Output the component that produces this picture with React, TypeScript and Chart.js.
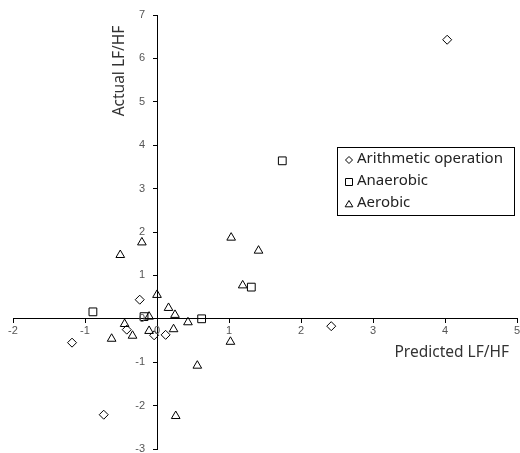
import React, { useEffect, useRef } from "react";
import { Chart, registerables } from "chart.js";

Chart.register(...registerables);

const X_TITLE = "Predicted LF/HF";
const Y_TITLE = "Actual LF/HF";
const SERIES_NAMES = ["Arithmetic operation", "Anaerobic", "Aerobic"];

const arithX = [4.03, 2.42, -1.18, -0.74, -0.24, -0.42, -0.04, 0.12];
const arithY = [6.43, -0.17, -0.55, -2.21, 0.44, -0.25, -0.38, -0.37];

const anaerX = [1.74, 1.31, -0.89, -0.18, 0.62];
const anaerY = [3.64, 0.73, 0.16, 0.05, 0.0];

const aerX = [-0.21, -0.51, 1.03, 1.41, 1.19, 0.0, 0.16, 0.25, -0.11, -0.45, -0.34, -0.63, -0.11, 0.23, 0.43, 1.02, 0.56, 0.26];
const aerY = [1.76, 1.47, 1.87, 1.57, 0.77, 0.55, 0.25, 0.09, 0.05, -0.12, -0.39, -0.46, -0.28, -0.24, -0.08, -0.53, -1.08, -2.24];

const X_MIN = -2, X_MAX = 5, Y_MIN = -3, Y_MAX = 7;

const zip = (xs: number[], ys: number[]) => xs.map((x, i) => ({ x, y: ys[i] }));

function drawMarker(ctx: CanvasRenderingContext2D, kind: string, x: number, y: number, r: number) {
  ctx.beginPath();
  if (kind === "diamond") {
    ctx.moveTo(x - r, y); ctx.lineTo(x, y - r); ctx.lineTo(x + r, y); ctx.lineTo(x, y + r); ctx.closePath();
  } else if (kind === "square") {
    ctx.rect(x - r, y - r, 2 * r, 2 * r);
  } else {
    ctx.moveTo(x, y - r); ctx.lineTo(x + r * 1.1, y + r * 0.8); ctx.lineTo(x - r * 1.1, y + r * 0.8); ctx.closePath();
  }
  ctx.stroke();
}

const overlay = {
  id: "overlay",
  afterDraw(chart: any) {
    const ctx: CanvasRenderingContext2D = chart.ctx;
    const xs = chart.scales.x, ys = chart.scales.y;
    const x0 = xs.getPixelForValue(0), y0 = ys.getPixelForValue(0);
    ctx.save();
    // tick labels
    ctx.fillStyle = "#555";
    ctx.font = '11px "Liberation Sans", sans-serif';
    ctx.textBaseline = "middle";
    ctx.textAlign = "center";
    xs.ticks.forEach((t: any) => {
      ctx.fillText(String(t.value), xs.getPixelForValue(t.value), y0 + 12);
    });
    ctx.textAlign = "right";
    ys.ticks.forEach((t: any) => {
      ctx.fillText(String(t.value), x0 - 12, ys.getPixelForValue(t.value));
    });

    ctx.fillStyle = "#333";
    ctx.font = '15.5px "Noto Sans"';
    ctx.textAlign = "right";
    ctx.textBaseline = "middle";
    ctx.fillText(X_TITLE, xs.right - 8, y0 + 34);
    ctx.save();
    ctx.translate(x0 - 37, ys.top + 56);
    ctx.rotate(-Math.PI / 2);
    ctx.textAlign = "center";
    ctx.fillText(Y_TITLE, 0, 0);
    ctx.restore();

    // legend
    ctx.font = '15px "Noto Sans"';
    const lx = 337, ly = 147, lw = 177, lh = 68;
    ctx.strokeStyle = "#000";
    ctx.lineWidth = 1;
    ctx.strokeRect(lx + 0.5, ly + 0.5, lw, lh);
    const kinds = ["diamond", "square", "triangle"];
    ctx.textAlign = "left";
    ctx.fillStyle = "#222";
    SERIES_NAMES.forEach((name, i) => {
      const cy = ly + 12 + i * 22;
      drawMarker(ctx, kinds[i], lx + 12, cy + 1, 3.5);
      ctx.fillText(name, lx + 20, cy);
    });
    ctx.restore();
  },
};

export default function App() {
  const ref = useRef<HTMLCanvasElement>(null);
  useEffect(() => {
    document.body.style.margin = "0";
    const chart = new Chart(ref.current!, {
      type: "scatter",
      data: {
        datasets: [
          {
            label: SERIES_NAMES[0],
            data: zip(arithX, arithY),
            pointStyle: "rectRot",
            pointRadius: 4.5,
            borderColor: "#000",
            backgroundColor: "rgba(0,0,0,0)",
            borderWidth: 1,
          },
          {
            label: SERIES_NAMES[1],
            data: zip(anaerX, anaerY),
            pointStyle: "rect",
            pointRadius: 5.5,
            borderColor: "#000",
            backgroundColor: "rgba(0,0,0,0)",
            borderWidth: 1,
          },
          {
            label: SERIES_NAMES[2],
            data: zip(aerX, aerY),
            pointStyle: "triangle",
            pointRadius: 5,
            borderColor: "#000",
            backgroundColor: "rgba(0,0,0,0)",
            borderWidth: 1,
          },
        ],
      },
      options: {
        animation: false,
        responsive: true,
        maintainAspectRatio: false,
        layout: { autoPadding: false, padding: { left: 13, right: 3, top: 15, bottom: 4 } },
        plugins: { legend: { display: false }, tooltip: { enabled: false } },
        scales: {
          x: {
            type: "linear",
            min: X_MIN,
            max: X_MAX,
            position: { y: 0 } as any,
            ticks: { stepSize: 1, display: false },
            grid: { display: true, drawOnChartArea: false, drawTicks: true, tickLength: 4, color: "#000" },
            border: { display: true, color: "#000", width: 1 },
          },
          y: {
            type: "linear",
            min: Y_MIN,
            max: Y_MAX,
            position: { x: 0 } as any,
            ticks: { stepSize: 1, display: false },
            grid: { display: true, drawOnChartArea: false, drawTicks: true, tickLength: 4, color: "#000" },
            border: { display: true, color: "#000", width: 1 },
          },
        },
      },
      plugins: [overlay],
    });
    return () => chart.destroy();
  }, []);
  return (
    <div style={{ position: "fixed", left: 0, top: 0, width: 520, height: 453 }}>
      <canvas ref={ref} />
    </div>
  );
}
